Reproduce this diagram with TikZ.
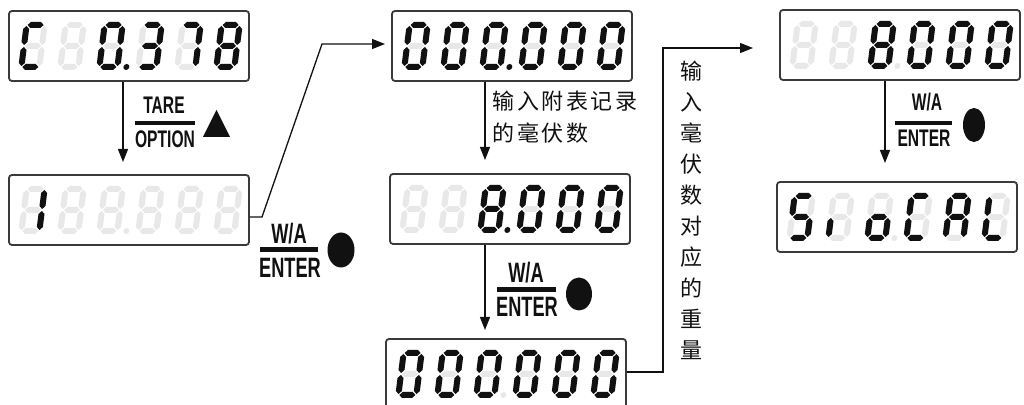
\documentclass[tikz,border=0pt]{standalone}
\usepackage{fontspec}
\setmainfont{Liberation Sans}
\newfontfamily\cjk{Noto Sans CJK SC}
\newfontfamily\cjks[LetterSpace=12]{Noto Sans CJK SC}
\usetikzlibrary{arrows.meta}
\definecolor{ghost}{HTML}{E8E8E8}
\definecolor{ink}{HTML}{111111}
\definecolor{frame}{HTML}{3A3A3A}
\def\sega#1{\fill[#1] (4,3)--(7,0)--(17,0)--(20,3)--(17,6)--(7,6)--cycle;}
\def\segg#1{\fill[#1] (4,24)--(7,21)--(17,21)--(20,24)--(17,27)--(7,27)--cycle;}
\def\segd#1{\fill[#1] (4,45)--(7,42)--(17,42)--(20,45)--(17,48)--(7,48)--cycle;}
\def\segf#1{\fill[#1] (3,4)--(6,7)--(6,20)--(3,23)--(0,20)--(0,7)--cycle;}
\def\sege#1{\fill[#1] (3,25)--(6,28)--(6,41)--(3,44)--(0,41)--(0,28)--cycle;}
\def\segb#1{\fill[#1] (21,4)--(24,7)--(24,20)--(21,23)--(18,20)--(18,7)--cycle;}
\def\segc#1{\fill[#1] (21,25)--(24,28)--(24,41)--(21,44)--(18,41)--(18,28)--cycle;}
\def\segnone#1{}
\newcommand\lcdrow[4]{%
  \foreach \segs [count=\i from 0] in {#3}{%
    \begin{scope}[shift={({#1+15+39*\i},{#2+11})},xslant=0.125]
      \foreach \s in {a,b,c,d,e,f,g}{\csname seg\s\endcsname{ghost}}
      \foreach \s in \segs {\csname seg\s\endcsname{ink}}
    \end{scope}}%
  \begin{scope}[shift={({#1+15+78},{#2+11})},xslant=0.125]
    \fill[#4] (30,45) circle[radius=3];
  \end{scope}}
\tikzset{
  lcd/.style={draw=frame, line width=0.9pt, rounded corners=1.5pt, minimum width=120pt, minimum height=35pt, inner sep=0pt},
  arr/.style={draw=ink, line width=0.65pt, -{Triangle[width=5pt,length=6.5pt]}},
  keybig/.style={font=\bfseries\fontsize{14pt}{16pt}\selectfont, inner sep=0pt, xscale=0.65, text=ink},
  keysmall/.style={font=\bfseries\fontsize{12pt}{14pt}\selectfont, inner sep=0pt, xscale=0.65, text=ink},
  bar/.style={draw=ink, line width=2pt},
  cjkh/.style={font=\cjks\fontsize{11pt}{16pt}\selectfont, inner sep=0pt, align=left, text=ink},
  cjkv/.style={font=\cjk\fontsize{11pt}{15.5pt}\selectfont, inner sep=0pt, align=center, text=ink},
}
\begin{document}
\begin{tikzpicture}[x=0.5pt,y=-0.5pt]
\clip (0,0) rectangle (1024,405);
\fill[white] (0,0) rectangle (1024,405);
% display frames
\node[lcd] (d1) at (129,46) {};
\node[lcd] (d2) at (129,210) {};
\node[lcd] (d3) at (512,46) {};
\node[lcd] (d4) at (510,209) {};
\node[lcd] (d5) at (506,374) {};
\node[lcd] (d6) at (900,45) {};
\node[lcd] (d7) at (897,217) {};
% digits
\lcdrow{9}{11}{{a,d,e,f},{none},{a,b,c,d,e,f},{a,b,c,d,g},{a,b,c},{a,b,c,d,e,f,g}}{ink}
\lcdrow{9}{175}{{b,c},{none},{none},{none},{none},{none}}{ghost}
\lcdrow{392}{11}{{a,b,c,d,e,f},{a,b,c,d,e,f},{a,b,c,d,e,f},{a,b,c,d,e,f},{a,b,c,d,e,f},{a,b,c,d,e,f}}{ink}
\lcdrow{390}{174}{{none},{none},{a,b,c,d,e,f,g},{a,b,c,d,e,f},{a,b,c,d,e,f},{a,b,c,d,e,f}}{ink}
\lcdrow{386}{339}{{a,b,c,d,e,f},{a,b,c,d,e,f},{a,b,c,d,e,f},{a,b,c,d,e,f},{a,b,c,d,e,f},{a,b,c,d,e,f}}{ghost}
\lcdrow{780}{10}{{none},{none},{a,b,c,d,e,f,g},{a,b,c,d,e,f},{a,b,c,d,e,f},{a,b,c,d,e,f}}{ghost}
\lcdrow{777}{182}{{a,f,g,c,d},{e},{c,d,e,g},{a,d,e,f},{a,b,c,e,f,g},{d,e,f}}{ghost}
% connector coordinates
\coordinate (t1) at (123,162);
\coordinate (c2a) at (262,217);
\coordinate (c2b) at (322,44);
\coordinate (t2) at (385,44);
\coordinate (t3) at (485,160);
\coordinate (t4) at (485,330);
\coordinate (c5a) at (663,372);
\coordinate (c5b) at (663,48);
\coordinate (t5) at (753,48);
\coordinate (t6) at (885,163);
% connectors
\draw[arr] (t1 |- d1.south) -- (t1);
\draw[arr] (d2.east |- c2a) -- (c2a) -- (c2b) -- (t2);
\draw[arr] (t3 |- d3.south) -- (t3);
\draw[arr] (t4 |- d4.south) -- (t4);
\draw[arr] (d5.east |- c5a) -- (c5a) -- (c5b) -- (t5);
\draw[arr] (t6 |- d6.south) -- (t6);
% key labels
\node[keysmall] (k1a) at (164,105) {TARE};
\draw[bar] (135,123) -- (195,123);
\node[keysmall] (k1b) at (165,139) {OPTION};
\fill[ink] (203,137) -- (230,137) -- (216.5,110) -- cycle;
\node[keybig] (k2a) at (289,234) {W/A};
\draw[bar,line width=2.5pt] (260,250) -- (318,250);
\node[keybig] (k2b) at (290,268) {ENTER};
\fill[ink] (341,250) ellipse[x radius=13.5, y radius=17.5];
\node[keybig] (k4a) at (526,273) {W/A};
\draw[bar,line width=2.5pt] (497,290) -- (556,290);
\node[keybig] (k4b) at (527,307) {ENTER};
\fill[ink] (579,294) ellipse[x radius=13, y radius=16.5];
\node[keysmall] (k6a) at (927,102) {W/A};
\draw[bar] (895,123) -- (952,123);
\node[keysmall] (k6b) at (924,138) {ENTER};
\fill[ink] (974,125) ellipse[x radius=11, y radius=17];
% chinese notes
\node[cjkh, anchor=north west] (n1) at (492,91) {输入附表记录\\的毫伏数};
\node[cjkv, anchor=north] (n2) at (691,61) {输\\入\\毫\\伏\\数\\对\\应\\的\\重\\量};
\end{tikzpicture}
\end{document}
